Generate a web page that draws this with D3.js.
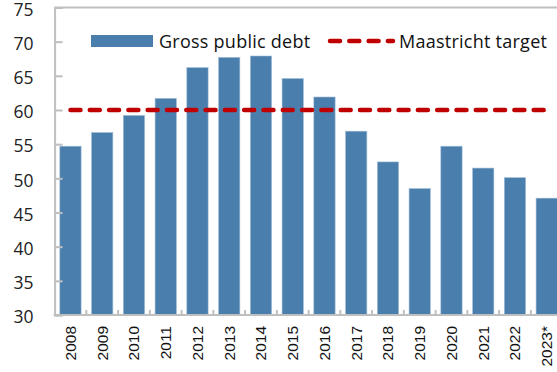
<!DOCTYPE html>
<html><head><meta charset="utf-8">
<script src="https://cdn.jsdelivr.net/npm/d3@7"></script>
<style>body{margin:0;background:#fff}svg{display:block}</style>
</head><body>
<script>
const categories = ["2008","2009","2010","2011","2012","2013","2014","2015","2016","2017","2018","2019","2020","2021","2022","2023*"];
const debt = [54.7,56.7,59.2,61.7,66.2,67.7,67.9,64.6,61.9,56.9,52.4,48.5,54.7,51.5,50.1,47.1];
const target = [60,60,60,60,60,60,60,60,60,60,60,60,60,60,60,60];
const yTicks = [30,35,40,45,50,55,60,65,70,75];
const seriesNames = ["Gross public debt","Maastricht target"];

const W=557,H=372;
const svg=d3.select("body").append("svg").attr("width",W).attr("height",H);
const mLeft=54.6, mTop=7.5, mBottom=315;
const x=d3.scaleBand().domain(categories).range([mLeft,mLeft+31.75*16]).paddingInner(0.33).paddingOuter(0.165);
const y=d3.scaleLinear().domain([30,75]).range([mBottom,mTop]);
const gray="#BFBFBF", blue="#4A7EAC", red="#C00000";
const font="'Open Sans', sans-serif";

// plot border top
svg.append("line").attr("x1",mLeft).attr("x2",W+10).attr("y1",y(75)).attr("y2",y(75)).attr("stroke",gray).attr("stroke-width",2);

// bars
svg.selectAll("rect.bar").data(debt).join("rect").attr("class","bar")
  .attr("x",(d,i)=>x(categories[i])).attr("width",x.bandwidth())
  .attr("y",d=>y(d)).attr("height",d=>y(30)-y(d))
  .attr("fill",blue).attr("stroke","#9dbbd6").attr("stroke-width",0.6);

// left axis
const ya=svg.append("g").attr("transform",`translate(${mLeft},0)`)
  .call(d3.axisLeft(y).tickValues(yTicks).tickSize(-8).tickPadding(21));
ya.select(".domain").attr("stroke",gray).attr("stroke-width",2);
ya.selectAll(".tick line").attr("stroke",gray).attr("stroke-width",2);
ya.selectAll(".tick text").attr("font-family",font).attr("font-size",17.5).attr("fill","#222").attr("dy","0.44em");

// bottom axis
svg.append("line").attr("x1",mLeft-1).attr("x2",W+10).attr("y1",mBottom).attr("y2",mBottom).attr("stroke",gray).attr("stroke-width",2);
const step=x.step();
svg.selectAll("line.xt").data(categories.slice(1)).join("line").attr("class","xt")
  .attr("x1",d=>x(d)-x.paddingInner()*step/2).attr("x2",d=>x(d)-x.paddingInner()*step/2)
  .attr("y1",mBottom).attr("y2",mBottom-5).attr("stroke",gray).attr("stroke-width",2);
svg.selectAll("text.xl").data(categories).join("text").attr("class","xl")
  .attr("transform",d=>`translate(${x(d)+x.bandwidth()/2+5.5},${mBottom+11}) rotate(-90)`)
  .attr("text-anchor","end").attr("font-family","'Liberation Sans', Arial, sans-serif").attr("font-size",15.5).attr("fill","#111")
  .text(d=>d);

// target line
const line=d3.line().x((d,i)=>x(categories[i])+x.bandwidth()/2).y(d=>y(d));
svg.append("path").datum(target).attr("d",line).attr("fill","none").attr("stroke",red)
  .attr("stroke-width",4.5).attr("stroke-dasharray","10,9.3").attr("stroke-linecap","round");

// legend
svg.append("rect").attr("x",91).attr("y",35).attr("width",62).attr("height",12).attr("fill",blue);
svg.append("text").attr("x",159).attr("y",47.5).attr("font-family",font).attr("font-size",18).attr("letter-spacing",0.25).attr("fill","#111").text(seriesNames[0]);
svg.append("line").attr("x1",330).attr("x2",393).attr("y1",41).attr("y2",41).attr("stroke",red).attr("stroke-width",4.5)
  .attr("stroke-dasharray","10,9.3").attr("stroke-linecap","round");
svg.append("text").attr("x",399).attr("y",47.5).attr("font-family",font).attr("font-size",18).attr("letter-spacing",0.25).attr("fill","#111").text(seriesNames[1]);
</script>
</body></html>
